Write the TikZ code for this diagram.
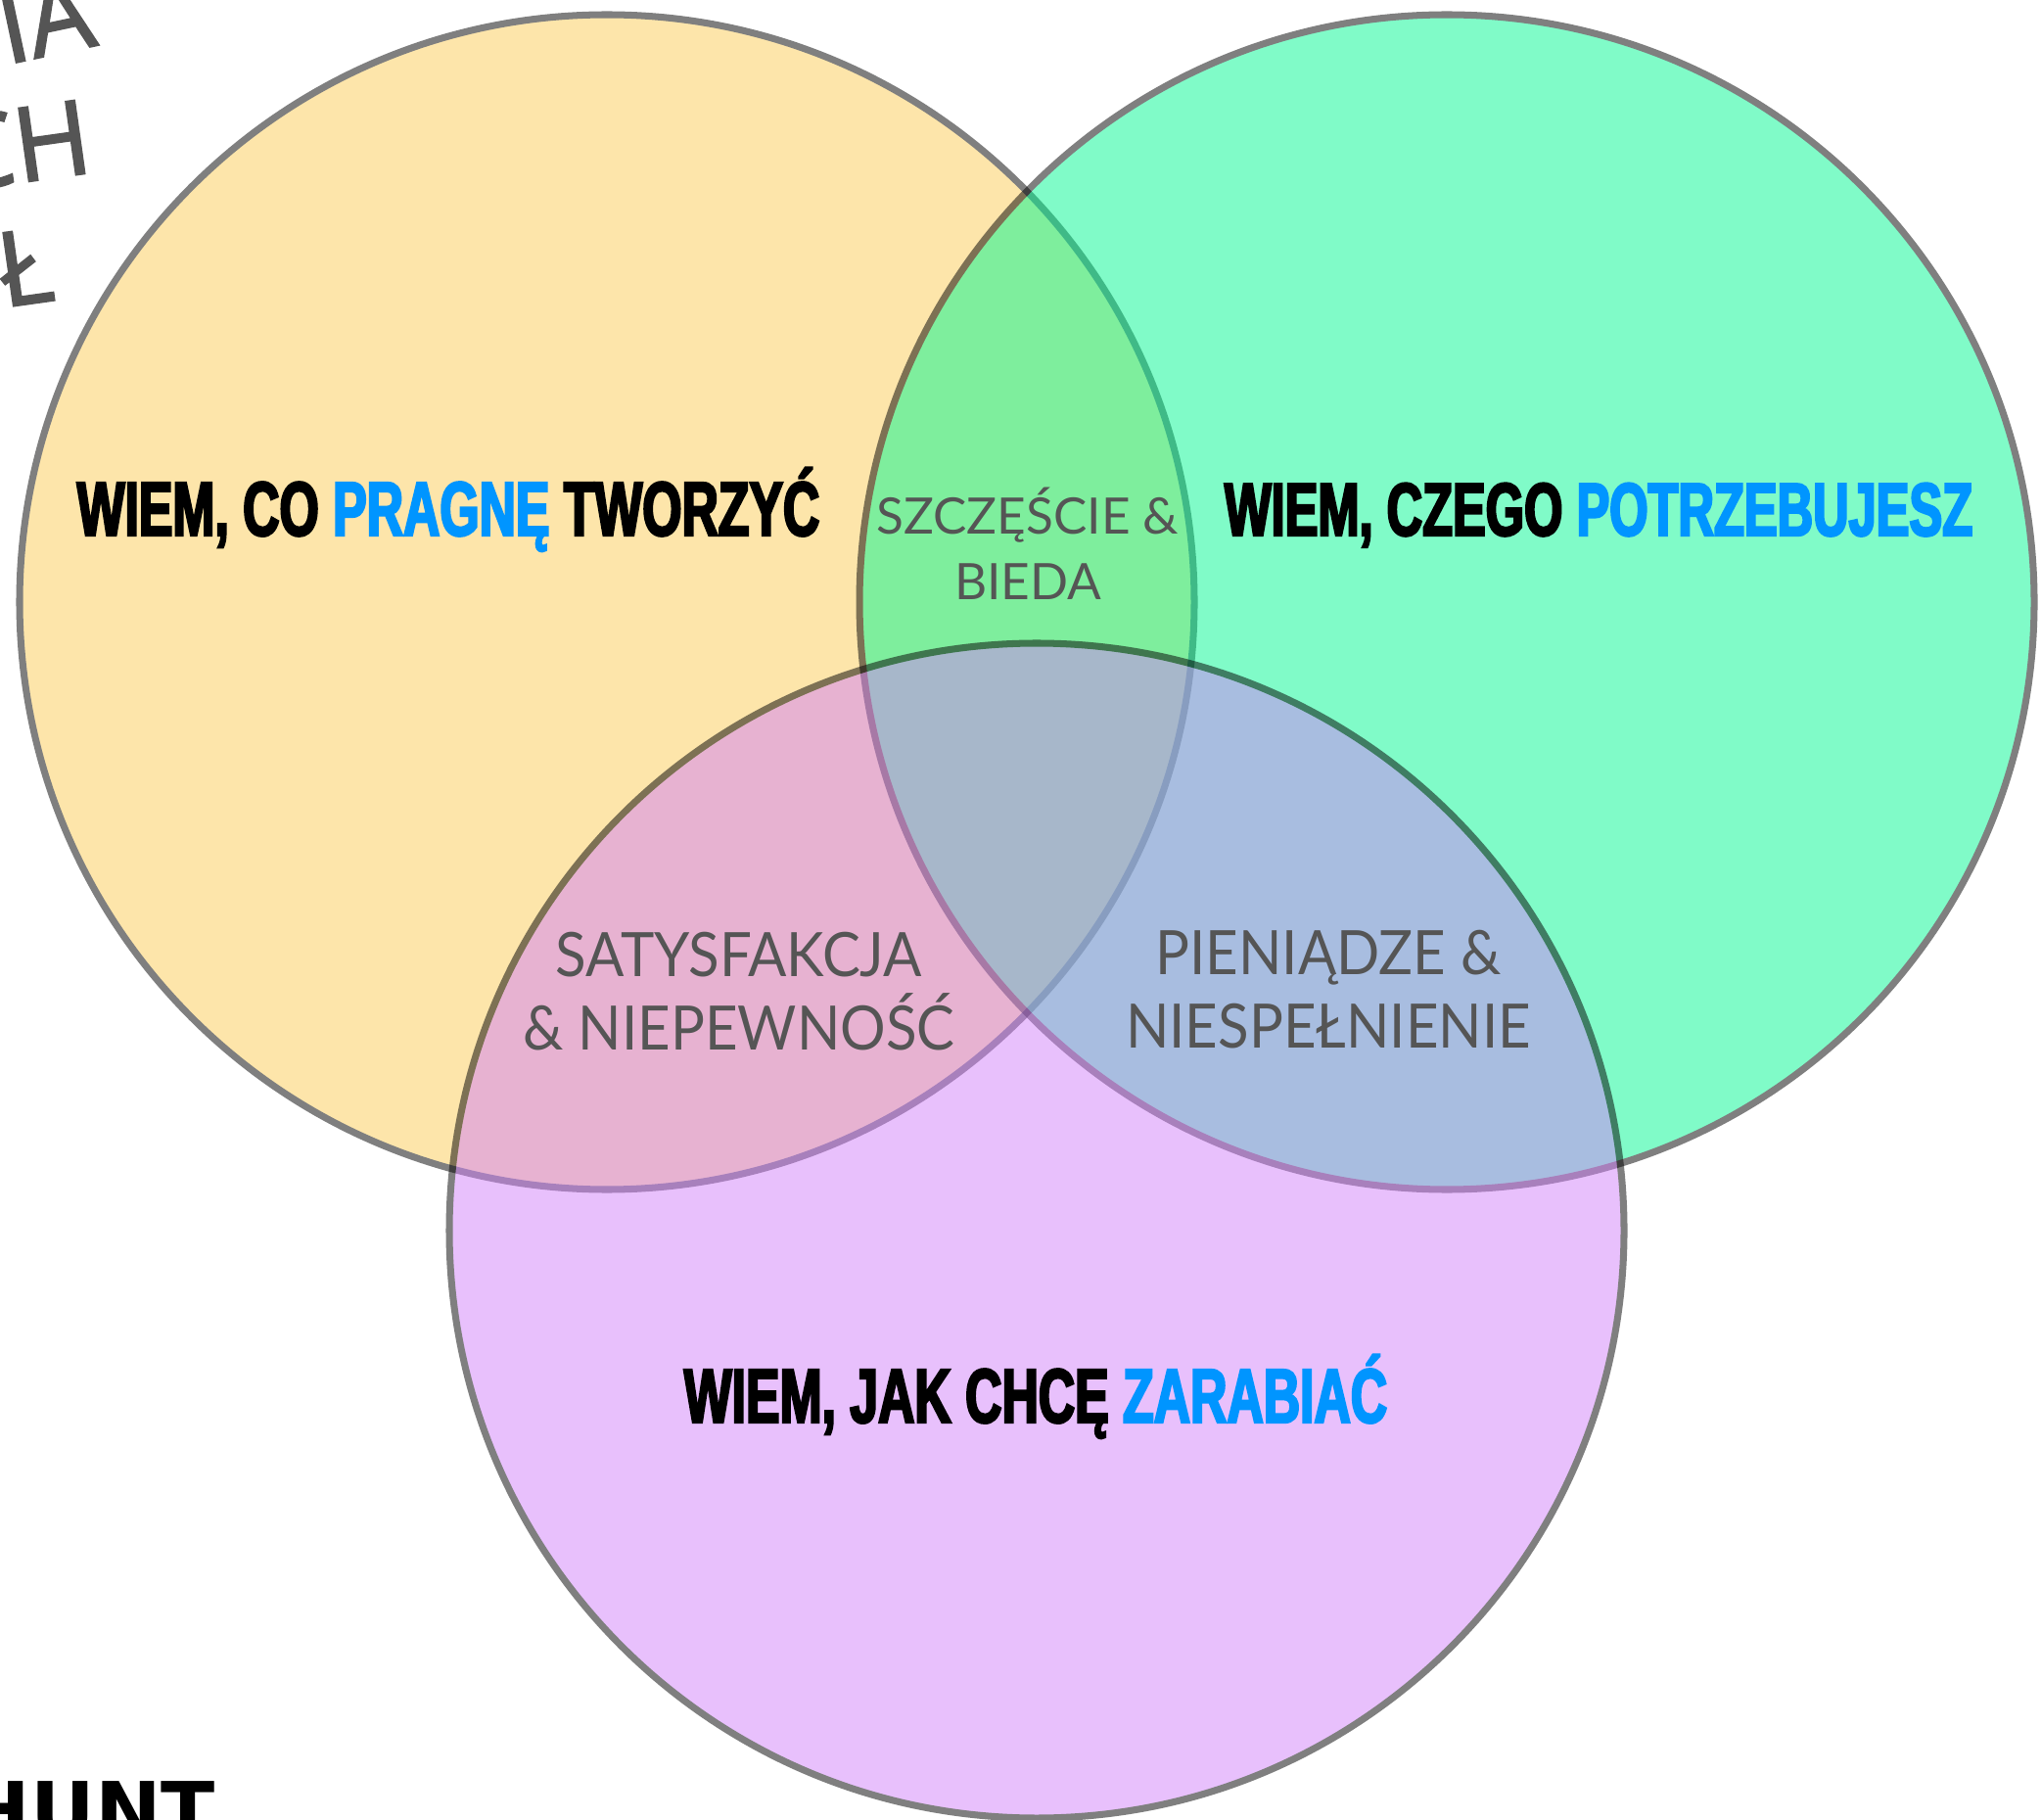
\documentclass[tikz,border=0pt]{standalone}
\usepackage{fontspec}
\setmainfont{Liberation Sans}
\newfontfamily\headfont[FakeStretch=0.66,FakeBold=3]{Liberation Sans}
\newfontfamily\labelfont{Lato}
\newfontfamily\narrowlabelfont[FakeStretch=0.93]{Lato}
\newfontfamily\handfont[FakeBold=2]{Open Sans}
\newfontfamily\stampfont{DejaVu Sans}
\usepackage{xcolor}
\usepackage{tikz}
\usetikzlibrary{positioning}

\definecolor{setyellow}{RGB}{251,203,85}
\definecolor{setgreen}{RGB}{1,247,145}
\definecolor{setpurple}{RGB}{209,129,249}
\definecolor{wantblue}{RGB}{0,149,255}
\definecolor{labelgray}{HTML}{555555}

\tikzset{
  setlayer/.style={transparency group, opacity=0.5},
  vennset/.style={draw=black, line width=2pt},
  headline/.style={font=\headfont\bfseries\fontsize{22.3}{26}\selectfont, inner sep=0pt, anchor=base},
  overlap/.style={font=\labelfont\fontsize{14.6}{19.3}\selectfont, text=labelgray, align=center, inner sep=0pt, anchor=base},
  sideoverlap/.style={font=\narrowlabelfont\fontsize{17.8}{21.3}\selectfont, text=labelgray, align=center, inner sep=0pt, anchor=base},
  handnote/.style={font=\handfont\fontsize{30}{32}\selectfont, text=labelgray, inner sep=0pt, anchor=base west},
}
\newcommand{\blueword}[1]{\textcolor{wantblue}{#1}}

\begin{document}
\begin{tikzpicture}
    \useasboundingbox (0,0) rectangle (20.85,18.58);
    \clip (0,0) rectangle (20.85,18.58);

    % centres of the three sets
    \coordinate (create) at (6.20,12.43);
    \coordinate (need)   at (14.78,12.43);
    \coordinate (earn)   at (10.59,6.01);

    % --- HANDWRITTEN SCRAPS (cut off by the page edge) ---
    \node[handnote, rotate=12] (scrapIA) at (0.06,17.92) {IA};
    \node[handnote, rotate=8]  (scrapCH) at (-0.47,16.62) {CH};
    \node[handnote, rotate=8]  (scrapL)  at (0.03,15.44) {Ł};
    \node[font=\stampfont\bfseries\fontsize{23}{25}\selectfont, inner sep=0pt, anchor=base west] (stamp) at (-0.37,-0.20) {HUNT};

    % --- THE THREE SETS ---
    \begin{scope}[setlayer]
      \draw[vennset, fill=setyellow] (create) circle (6.0);
    \end{scope}
    \begin{scope}[setlayer]
      \draw[vennset, fill=setgreen] (need) circle (6.0);
    \end{scope}
    \begin{scope}[setlayer]
      \draw[vennset, fill=setpurple] (earn) circle (6.0);
    \end{scope}

    % Set titles
    \node[headline] (createtitle) at (4.58,13.11) {WIEM, CO \blueword{PRAGNĘ} TWORZYĆ};
    \node[headline, font=\headfont\bfseries\fontsize{21.8}{26}\selectfont] (needtitle) at (16.33,13.11) {WIEM, CZEGO \blueword{POTRZEBUJESZ}};
    \node[headline] (earntitle)   at (10.58,4.05) {WIEM, JAK CHCĘ \blueword{ZARABIAĆ}};

    % Overlaps (anchored on the last line)
    \node[overlap]     (joy)     at (10.50,12.45) {SZCZĘŚCIE \&\\BIEDA};
    \node[sideoverlap] (doubt)   at (7.55,7.86)  {SATYSFAKCJA\\\& NIEPEWNOŚĆ};
    \node[sideoverlap] (money)   at (13.57,7.88) {PIENIĄDZE \&\\NIESPEŁNIENIE};
\end{tikzpicture}
\end{document}
